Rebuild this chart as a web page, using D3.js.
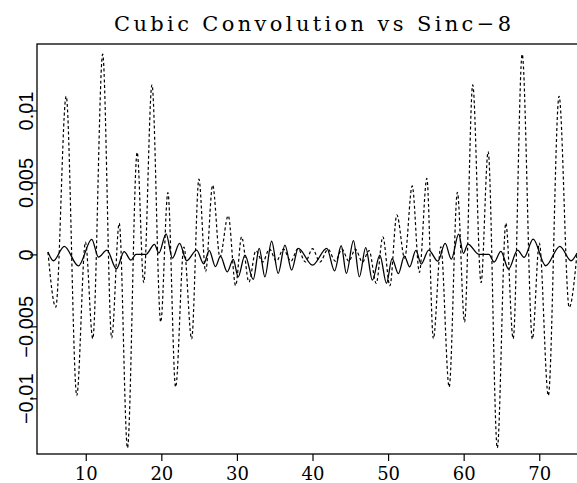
<!DOCTYPE html>
<html>
<head>
<meta charset="utf-8">
<script src="https://cdn.jsdelivr.net/npm/d3@7"></script>
<style>
  body { margin: 0; background: #fff; }
  svg { display: block; }
</style>
</head>
<body>
<div id="chart"></div>
<script>
"use strict"

const title = "Cubic Convolution vs Sinc\u22128";
const xTicks = [10, 20, 30, 40, 50, 60, 70];
const yTicks = [-0.01, -0.005, 0, 0.005, 0.01];
const yTickLabels = ["\u22120.01", "\u22120.005", "0", "0.005", "0.01"];

// dotted trace (cubic convolution), peaks and troughs
const cubicX = [5.0, 6.03, 7.41, 8.81, 9.96, 10.93, 12.24, 13.43, 14.43, 15.52,
  16.80, 17.67, 18.76, 19.92, 20.87, 21.89, 22.99, 24.01, 24.97, 25.86,
  26.79, 27.75, 28.85, 29.83, 30.62, 31.59, 32.51, 33.41, 34.30, 35.22,
  36.15, 37.14, 38.07, 39.06, 40.0, 40.98, 42.05, 43.03, 43.89, 44.81,
  45.67, 46.60, 47.49, 48.43, 49.31, 50.24, 51.16, 52.20, 53.19, 54.14,
  55.13, 55.99, 56.98, 58.08, 59.17, 60.12, 61.20, 62.30, 63.24, 64.45,
  65.58, 66.55, 67.74, 69.09, 70.01, 71.20, 72.62, 73.96, 75.0];
const cubicY = [0.00016, -0.00366, 0.01099, -0.00981, 0.00085, -0.00585, 0.01391, -0.00581, 0.00217, -0.01345,
  0.00710, -0.00196, 0.01179, -0.00470, 0.00429, -0.00922, 0.00051, -0.00588, 0.00523, -0.00120,
  0.00481, -0.00019, 0.00269, -0.00217, 0.00122, -0.00192, 0.00026, -0.00053, 0.00037, -0.00047,
  0.00037, -0.00047, 0.00040, -0.00053, 0.00040, -0.00053, 0.00035, -0.00047, 0.00037, -0.00047,
  0.00037, -0.00053, 0.00026, -0.00201, 0.00122, -0.00218, 0.00274, -0.00026, 0.00476, -0.00125,
  0.00528, -0.00586, 0.00053, -0.00922, 0.00431, -0.00470, 0.01178, -0.00196, 0.00714, -0.01345,
  0.00217, -0.00586, 0.01391, -0.00588, 0.00078, -0.00981, 0.01099, -0.00368, 0.00009];

// solid trace (sinc-8)
const sincX = [5.0, 5.73, 7.16, 9.03, 10.79, 11.68, 12.80, 14.06, 15.08, 15.98,
  16.64, 17.96, 19.09, 19.68, 20.63, 21.47, 22.41, 23.35, 24.67, 25.61,
  26.34, 27.16, 27.82, 28.72, 29.51, 30.17, 31.06, 32.16, 32.95, 33.70,
  34.59, 35.46, 36.35, 37.24, 38.11, 40.0, 41.89, 42.92, 43.80, 44.48,
  45.42, 46.20, 47.04, 47.92, 48.91, 49.79, 50.53, 51.36, 52.16, 52.85,
  53.68, 54.38, 55.37, 56.59, 57.55, 58.37, 59.34, 59.96, 60.56, 62.01,
  63.33, 64.03, 64.92, 65.94, 67.13, 68.00, 69.19, 70.85, 72.73, 74.21, 75.0];
const sincY = [0.00016, -0.00044, 0.00056, -0.00080, 0.00105, -0.00019, 0.00030, -0.00100, 0.00019, -0.00040,
  0.0, 0.0, 0.00070, 0.00009, 0.00143, -0.00026, 0.00076, -0.00044, 0.00030, -0.00065,
  0.00026, -0.00085, -0.00012, -0.00121, -0.00035, -0.00156, -0.00005, -0.00174, 0.00042, -0.00156,
  0.00092, -0.00132, 0.00065, -0.00109, 0.00042, -0.00074, 0.00042, -0.00114, 0.00060, -0.00132,
  0.00096, -0.00156, 0.00047, -0.00178, -0.00005, -0.00201, -0.00029, -0.00133, -0.00012, -0.00086,
  0.00028, -0.00067, 0.00030, -0.00047, 0.00076, -0.00033, 0.00141, 0.00007, 0.00072, 0.0,
  0.0, -0.00053, 0.00021, -0.00102, 0.00030, -0.00021, 0.00106, -0.00079, 0.00056, -0.00044, 0.00009];

const width = 577, height = 483;
const frame = {left: 37, top: 44, bottom: 454};

const svg = d3.select("#chart").append("svg")
  .attr("width", width)
  .attr("height", height);

const x = d3.scaleLinear().domain([3.55, 76.45]).range([frame.left, 588]);
const y = d3.scaleLinear().domain([-0.01387, 0.01462]).range([frame.bottom, frame.top]);

// Title
svg.append("text")
  .attr("x", x(40))
  .attr("y", 31)
  .attr("text-anchor", "middle")
  .attr("font-family", "DejaVu Serif, serif")
  .attr("font-size", 21)
  .attr("textLength", 397)
  .attr("lengthAdjust", "spacing")
  .text(title);

// Traces
const line = d3.line()
  .x(d => x(d[0]))
  .y(d => y(d[1]))
  .curve(d3.curveMonotoneX);

svg.append("path")
  .datum(d3.zip(cubicX, cubicY))
  .attr("fill", "none")
  .attr("stroke", "#000")
  .attr("stroke-width", 1.2)
  .attr("stroke-dasharray", "3,2.5")
  .attr("d", line);

svg.append("path")
  .datum(d3.zip(sincX, sincY))
  .attr("fill", "none")
  .attr("stroke", "#000")
  .attr("stroke-width", 1.3)
  .attr("d", line);

// Frame
svg.append("rect")
  .attr("x", frame.left)
  .attr("y", frame.top)
  .attr("width", 588 - frame.left)
  .attr("height", frame.bottom - frame.top)
  .attr("fill", "none")
  .attr("stroke", "#000")
  .attr("stroke-width", 1.3);

// Axes
const xAxis = svg.append("g")
  .attr("transform", `translate(0,${frame.bottom})`)
  .call(d3.axisBottom(x).tickValues(xTicks).tickSize(7).tickPadding(6));
xAxis.select(".domain").remove();
xAxis.selectAll("line").attr("stroke-width", 1.2);
xAxis.selectAll("text")
  .attr("font-family", "DejaVu Serif, serif")
  .attr("font-size", 18)
  .attr("fill", "#000");

const yAxis = svg.append("g")
  .attr("transform", `translate(${frame.left},0)`)
  .call(d3.axisLeft(y).tickValues(yTicks).tickSize(7)
    .tickFormat((d, i) => yTickLabels[i]));
yAxis.select(".domain").remove();
yAxis.selectAll("line").attr("stroke-width", 1.2);
yAxis.selectAll("text")
  .attr("x", null)
  .attr("dy", null)
  .attr("text-anchor", "middle")
  .attr("transform", "translate(-4,0) rotate(-90)")
  .attr("font-family", "Liberation Sans, sans-serif")
  .attr("font-size", 20)
  .attr("fill", "#000");
</script>
</body>
</html>
